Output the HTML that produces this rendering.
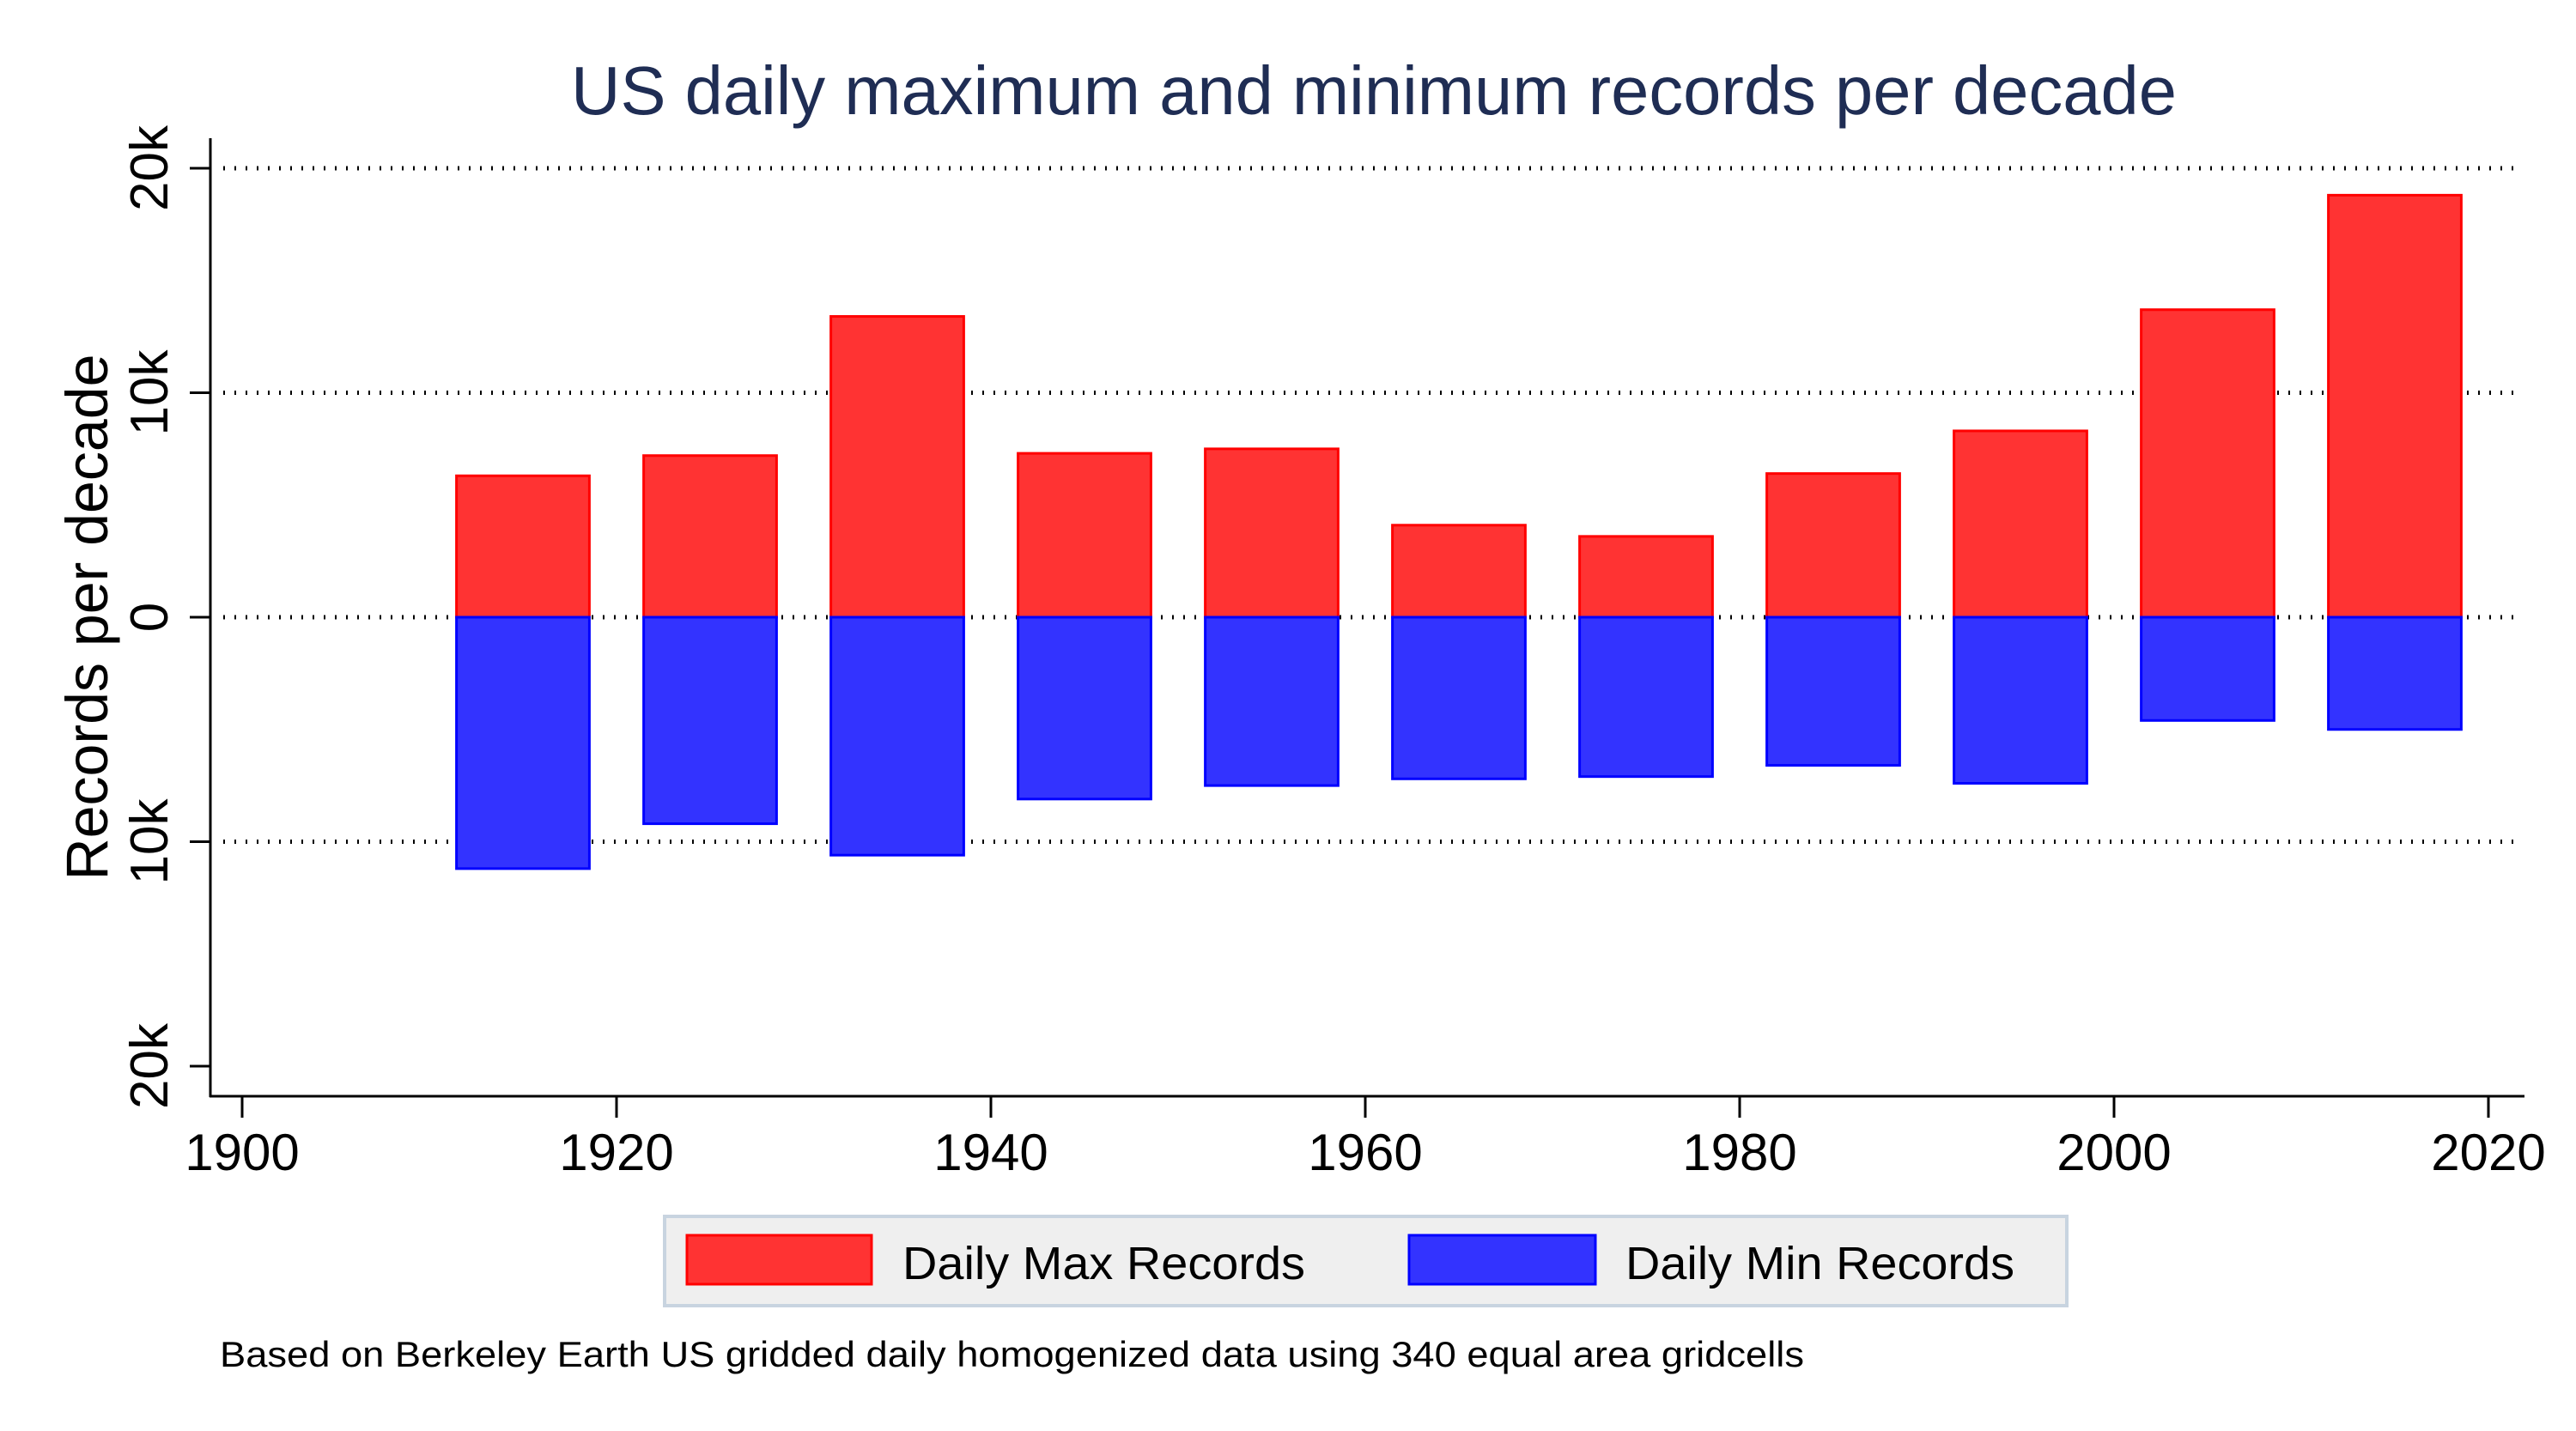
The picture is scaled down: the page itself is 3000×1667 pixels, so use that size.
<!DOCTYPE html>
<html><head><meta charset="utf-8"><style>
html,body{margin:0;padding:0;background:#fff;}
svg{display:block;font-family:"Liberation Sans",Arial,sans-serif;}
</style></head><body>
<svg id="chart" width="3000" height="1667" viewBox="0 0 3000 1667" xmlns="http://www.w3.org/2000/svg">
<rect x="0" y="0" width="3000" height="1667" fill="#ffffff"/>
<text x="1600" y="133" text-anchor="middle" font-size="80" fill="#1f2d54" textLength="1870" lengthAdjust="spacingAndGlyphs">US daily maximum and minimum records per decade</text>
<g id="grid"></g>
<g id="bars"></g>
<g id="axes"></g>
<text transform="translate(125,719) rotate(-90)" text-anchor="middle" font-size="69" fill="#000" textLength="613" lengthAdjust="spacingAndGlyphs">Records per decade</text>
<g>
<rect x="774" y="1417" width="1633" height="104" fill="#efefef" stroke="#c8d4e0" stroke-width="4"/>
<rect x="800" y="1439" width="215" height="57" fill="#ff3333" stroke="#ff0000" stroke-width="3"/>
<text x="1051" y="1490" font-size="54" fill="#000" textLength="469" lengthAdjust="spacingAndGlyphs">Daily Max Records</text>
<rect x="1641" y="1439" width="217" height="57" fill="#3333ff" stroke="#0000ff" stroke-width="3"/>
<text x="1893" y="1490" font-size="54" fill="#000" textLength="453" lengthAdjust="spacingAndGlyphs">Daily Min Records</text>
</g>
<text x="256" y="1592" font-size="42" fill="#000" textLength="1845" lengthAdjust="spacingAndGlyphs">Based on Berkeley Earth US gridded daily homogenized data using 340 equal area gridcells</text>
</svg>
<script>
const decades = [1915, 1925, 1935, 1945, 1955, 1965, 1975, 1985, 1995, 2005, 2015];
const maxRecords = [6.3, 7.2, 13.4, 7.3, 7.5, 4.1, 3.6, 6.4, 8.3, 13.7, 18.8];
const minRecords = [-11.2, -9.2, -10.6, -8.1, -7.5, -7.2, -7.1, -6.6, -7.4, -4.6, -5.0];
const yTicks = [20, 10, 0, -10, -20];
const yTickLabels = ["20k", "10k", "0", "10k", "20k"];
const xTicks = [1900, 1920, 1940, 1960, 1980, 2000, 2020];

const NS = "http://www.w3.org/2000/svg";
function xs(yr){ return 282 + (yr - 1900) * 21.8; }
function ys(v){ return 719 - v * 26.15; }
function mk(tag, attrs, parent){ const e = document.createElementNS(NS, tag); for (const k in attrs) e.setAttribute(k, attrs[k]); parent.appendChild(e); return e; }

const grid = document.getElementById('grid');
const bars = document.getElementById('bars');
const axes = document.getElementById('axes');

yTicks.forEach((t, i) => {
  const y = ys(t);
  if (t !== -20) {
    const g = mk('line', {x1: 260, x2: 2932, y1: y, y2: y, stroke: '#000', 'stroke-width': 5, 'stroke-dasharray': '2 11'}, grid);
    
    
  }
  const tk = mk('line', {x1: 221, x2: 245, y1: y, y2: y, stroke: '#000', 'stroke-width': 3}, axes);
  
  
  const lb = mk('text', {transform: `translate(195,${y}) rotate(-90)`, 'text-anchor': 'middle', 'font-size': 62, fill: '#000'}, axes);
  lb.textContent = yTickLabels[i];
  
  
});

decades.forEach((d, i) => {
  const x0 = xs(d - 3.55), x1 = xs(d + 3.55);
  const r = mk('rect', {x: x0, y: ys(maxRecords[i]), width: x1 - x0, height: ys(0) - ys(maxRecords[i]), fill: '#ff3333', stroke: '#ff0000', 'stroke-width': 3}, bars);
  
  
  const b = mk('rect', {x: x0, y: ys(0), width: x1 - x0, height: ys(minRecords[i]) - ys(0), fill: '#3333ff', stroke: '#0000ff', 'stroke-width': 3}, bars);
  
  
});

const ya = mk('line', {x1: 245, x2: 245, y1: 161, y2: 1278, stroke: '#000', 'stroke-width': 3}, axes);


const xa = mk('line', {x1: 244, x2: 2940, y1: 1277, y2: 1277, stroke: '#000', 'stroke-width': 3}, axes);



xTicks.forEach(t => {
  const x = xs(t);
  const tk = mk('line', {x1: x, x2: x, y1: 1277, y2: 1302, stroke: '#000', 'stroke-width': 3}, axes);
  
  
  const lb = mk('text', {x: x, y: 1363, 'text-anchor': 'middle', 'font-size': 60, fill: '#000'}, axes);
  lb.textContent = String(t);
  
  
});
</script>
</body></html>
